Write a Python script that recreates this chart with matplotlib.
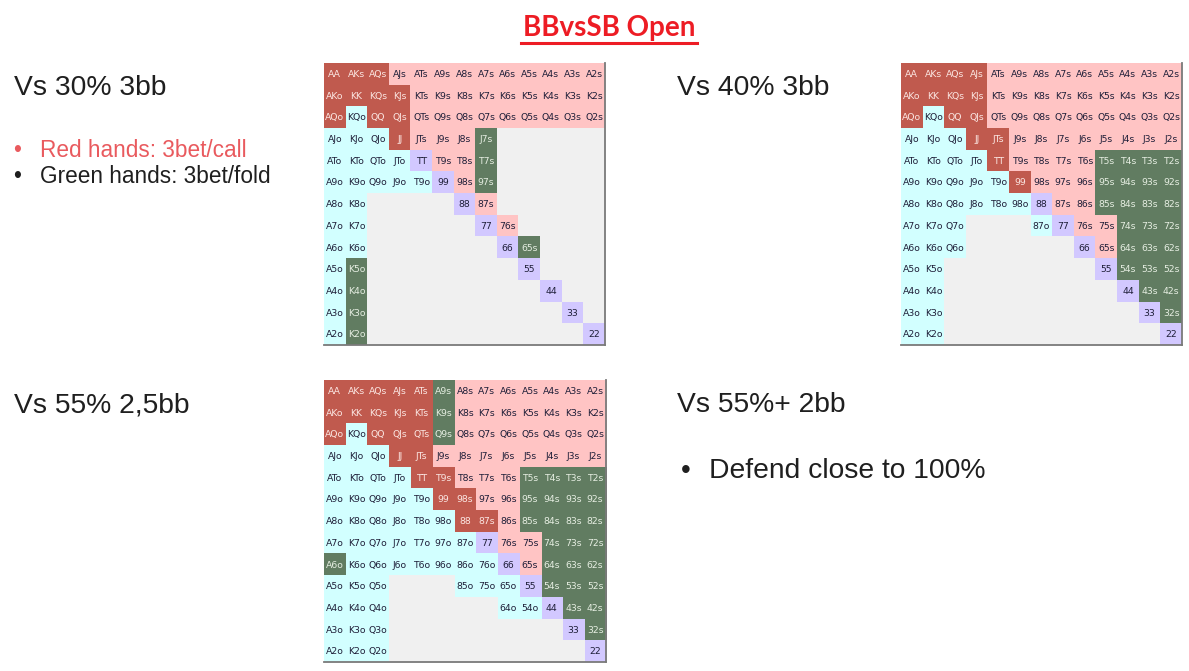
import matplotlib
matplotlib.use("Agg")
import matplotlib.pyplot as plt
import numpy as np
from matplotlib.colors import ListedColormap

W, H = 1189, 671

ranks = list("AKQJT98765432")

# cell codes: R=3bet/call (dark red), P=pink, C=cyan, G=green, L=pair lavender, E=empty
grid_30 = [
    "RRRPPPPPPPPPP",
    "RRRRPPPPPPPPP",
    "RCRRPPPPPPPPP",
    "CCCRPPPGEEEEE",
    "CCCCLPPGEEEEE",
    "CCCCCLPGEEEEE",
    "CCEEEELPEEEEE",
    "CCEEEEELPEEEE",
    "CCEEEEEELGEEE",
    "CGEEEEEEELEEE",
    "CGEEEEEEEELEE",
    "CGEEEEEEEEELE",
    "CGEEEEEEEEEEL",
]
grid_40 = [
    "RRRRPPPPPPPPP",
    "RRRRPPPPPPPPP",
    "RCRRPPPPPPPPP",
    "CCCRRPPPPPPPP",
    "CCCCRPPPPGGGG",
    "CCCCCRPPPGGGG",
    "CCCCCCLPPGGGG",
    "CCCEEECLPPGGG",
    "CCCEEEEELPGGG",
    "CCEEEEEEELGGG",
    "CCEEEEEEEELGG",
    "CCEEEEEEEEELG",
    "CCEEEEEEEEEEL",
]
grid_55 = [
    "RRRRRGPPPPPPP",
    "RRRRRGPPPPPPP",
    "RCRRRGPPPPPPP",
    "CCCRRPPPPPPPP",
    "CCCCRRPPPGGGG",
    "CCCCCRRPPGGGG",
    "CCCCCCRRPGGGG",
    "CCCCCCCLPPGGG",
    "GCCCCCCCLPGGG",
    "CCCEEECCCLGGG",
    "CCCEEEEECCLGG",
    "CCCEEEEEEEELG",
    "CCCEEEEEEEEEL",
]

codes = "EPCRGL"
palette = ["#F0F0F0", "#FFC4C4", "#D2FFFF", "#C05A4E", "#617C61", "#D2C8FF"]
text_colors = {"R": "#FBE6E2", "G": "#E6EEE2"}
dark_text = "#1E1E38"

titles = ["BBvsSB Open"]
headers = ["Vs 30% 3bb", "Vs 40% 3bb", "Vs 55% 2,5bb", "Vs 55%+ 2bb"]
bullets_30 = ["Red hands: 3bet/call", "Green hands: 3bet/fold"]
bullet_55 = ["Defend close to 100%"]


def label(i, j):
    if i == j:
        return ranks[i] * 2
    if j > i:
        return ranks[i] + ranks[j] + "s"
    return ranks[j] + ranks[i] + "o"


fig = plt.figure(figsize=(W / 100, H / 100), dpi=100)
fig.patch.set_facecolor("white")


def fx(x):
    return x / W


def fy(y):
    return 1 - y / H


def draw_grid(grid, x0, y0, x1, y1):
    ax = fig.add_axes([fx(x0), fy(y1), fx(x1) - fx(x0), fy(y0) - fy(y1)])
    mat = np.array([[codes.index(c) for c in row] for row in grid])
    ax.imshow(mat, cmap=ListedColormap(palette), vmin=-0.5, vmax=len(palette) - 0.5,
              aspect="auto", interpolation="nearest", extent=(-0.5, 12.5, 12.5, -0.5))
    for i, row in enumerate(grid):
        for j, c in enumerate(row):
            if c == "E":
                continue
            ax.text(j, i + 0.03, label(i, j), ha="center", va="center",
                    fontsize=6.7, family="DejaVu Sans",
                    color=text_colors.get(c, dark_text))
    ax.set_xticks([])
    ax.set_yticks([])
    ax.spines["left"].set_visible(False)
    ax.spines["top"].set_visible(False)
    for s in ("right", "bottom"):
        ax.spines[s].set_color("#7A7A7A")
        ax.spines[s].set_linewidth(1.3)
    return ax


draw_grid(grid_30, 324, 63, 605, 345)
draw_grid(grid_40, 901, 63, 1182, 345)
draw_grid(grid_55, 324, 380, 606, 662)

# title
fig.text(fx(609), fy(36), titles[0], ha="center", va="baseline", fontsize=20,
         family="Lato", fontweight="bold", color="#ED1C24")
fig.add_artist(plt.Line2D([fx(521), fx(697)], [fy(43), fy(43)], color="#ED1C24", lw=2.2))

hfont = dict(family="Liberation Sans", fontsize=20.3, color="#1F1F1F", va="baseline")
fig.text(fx(14), fy(95), headers[0], **hfont)
fig.text(fx(677), fy(95), headers[1], **hfont)
fig.text(fx(14), fy(412), headers[2], **hfont)
fig.text(fx(677), fy(412), headers[3], **hfont)

red = "#E95A5E"
bfont = dict(family="Liberation Sans", fontsize=16.3, va="baseline")
fig.text(fx(13), fy(157), "\u2022", color=red, **bfont)
fig.text(fx(40), fy(157), bullets_30[0], color=red, **bfont)
fig.text(fx(13), fy(183), "\u2022", color="#1F1F1F", **bfont)
fig.text(fx(40), fy(183), bullets_30[1], color="#1F1F1F", **bfont)

fig.text(fx(681), fy(478), "\u2022", color="#1F1F1F", family="Liberation Sans", fontsize=20, va="baseline")
fig.text(fx(709), fy(478), bullet_55[0], **hfont)

fig.savefig("out.png", dpi=100, facecolor="white")
